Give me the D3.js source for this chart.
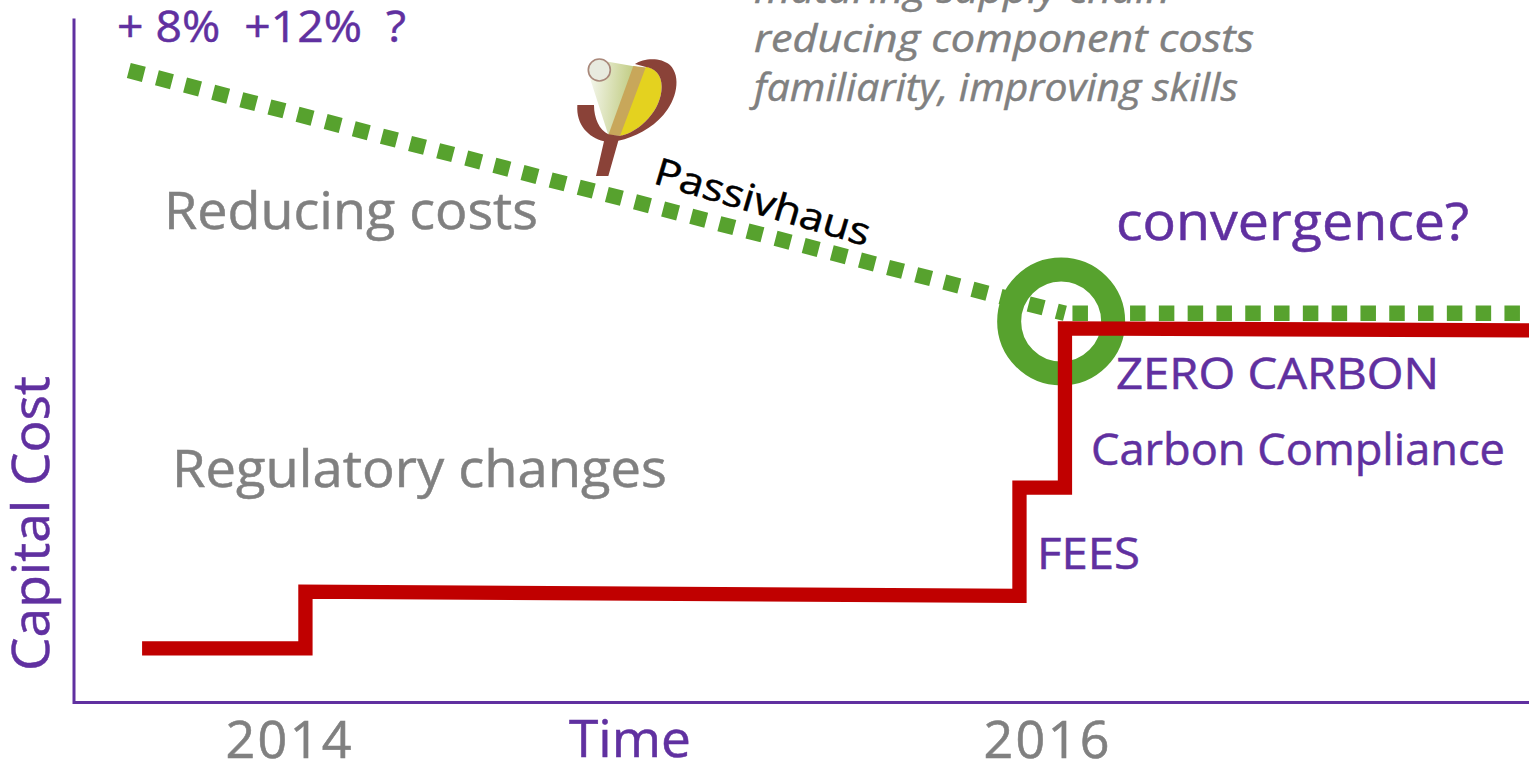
<!DOCTYPE html>
<html>
<head>
<meta charset="utf-8">
<script src="https://cdn.jsdelivr.net/npm/d3@7"></script>
<style>
html, body { margin: 0; padding: 0; background: #fff; overflow: hidden; }
text { font-family: "Open Sans", "DejaVu Sans", sans-serif; }
</style>
</head>
<body>
<div id="chart"></div>
<script>
// values: time in years, cost on a 0-100 index
var regulationYears = [2013.615, 2014.046, 2014.046, 2015.93, 2015.93, 2016.05, 2016.05, 2017.29];
var regulationCost = [7.9, 7.9, 16.2, 15.6, 31.4, 31.4, 54.7, 54.4];
var passivhausYears = [2013.58, 2016.05, 2017.29];
var passivhausCost = [92.4, 56.9, 56.9];
var timeTicks = [2014, 2016];
var convergenceYear = [2016.04];
var convergenceCost = [55.7];

var width = 1529,
	height = 764;

var purple = "#6030a0",
	grey = "#808080",
	red = "#c00000",
	green = "#57a22e";

var svg = d3.select("#chart")
	.append("svg")
	.attr("width", width)
	.attr("height", height)
	.style("display", "block");

var x = d3.scaleLinear().domain([2014, 2016]).range([288, 1046]);
var y = d3.scaleLinear().domain([0, 100]).range([702.5, 18.5]);

var line = d3.line()
	.x(function(d) { return x(d[0]); })
	.y(function(d) { return y(d[1]); });

//axes, no tick marks, only the two year labels
var xAxis = svg.append("g")
	.attr("transform", "translate(0," + y(0) + ")")
	.call(d3.axisBottom(x).tickValues(timeTicks).tickFormat(d3.format("d")).tickSize(0).tickPadding(10));
xAxis.select(".domain").remove();
xAxis.selectAll("text")
	.attr("fill", grey)
	.attr("stroke", grey)
	.attr("stroke-width", 0.6)
	.attr("font-size", 52)
	.attr("textLength", 126)
	.attr("lengthAdjust", "spacing")
	.attr("dy", "0.87em");

svg.append("path")
	.attr("d", line([[x.invert(74), 100], [x.invert(74), 0], [x.invert(1529), 0]]))
	.attr("fill", "none")
	.attr("stroke", purple)
	.attr("stroke-width", 3);

//passivhaus cost, dotted: the falling part and the flat part have their own dash phase
var passivhaus = d3.zip(passivhausYears, passivhausCost);
svg.append("path")
	.attr("d", line(passivhaus.slice(0, 2)))
	.attr("fill", "none")
	.attr("stroke", green)
	.attr("stroke-width", 15.5)
	.attr("stroke-dasharray", "15.5 13.55");
svg.append("path")
	.attr("d", line(passivhaus.slice(1)))
	.attr("fill", "none")
	.attr("stroke", green)
	.attr("stroke-width", 15.5)
	.attr("stroke-dasharray", "15.5 13.3")
	.attr("stroke-dashoffset", -7.5);

//ring round the point where the two lines meet
svg.selectAll(".ring")
	.data(d3.zip(convergenceYear, convergenceCost))
	.enter().append("circle")
	.attr("class", "ring")
	.attr("cx", function(d) { return x(d[0]); })
	.attr("cy", function(d) { return y(d[1]); })
	.attr("r", 52)
	.attr("fill", "none")
	.attr("stroke", green)
	.attr("stroke-width", 24);

//regulation cost, stepped
svg.append("path")
	.attr("d", line(d3.zip(regulationYears, regulationCost)))
	.attr("fill", "none")
	.attr("stroke", red)
	.attr("stroke-width", 14.3)
	.attr("stroke-linejoin", "miter");

function label(str, px, py, size, color, len, opts) {
	opts = opts || {};
	var t = svg.append("text")
		.attr("x", px)
		.attr("y", py)
		.attr("font-size", size)
		.attr("fill", color)
		.attr("stroke", color)
		.attr("stroke-width", 0.5)
		.attr("textLength", len)
		.attr("lengthAdjust", "spacingAndGlyphs")
		.style("white-space", "pre")
		.text(str);
	if (opts.italic) t.attr("font-style", "italic");
	if (opts.rotate) t.attr("transform", "rotate(" + opts.rotate + " " + px + " " + py + ")");
	return t;
}

label("+ 8%  +12%  ?", 117, 42, 43, purple, 289);
label("maturing supply chain", 754, 3, 39, grey, 416, { italic: true });
label("reducing component costs", 754, 52, 39, grey, 500, { italic: true });
label("familiarity, improving skills", 754, 101, 39, grey, 484, { italic: true });
label("Reducing costs", 164, 229, 51, grey, 374);
label("Regulatory changes", 172, 487, 51, grey, 495);
label("convergence?", 1116, 240, 51, purple, 353);
label("ZERO CARBON", 1116, 389, 43, purple, 323);
label("Carbon Compliance", 1091, 465, 43, purple, 414);
label("FEES", 1037, 569, 44, purple, 103);
label("Time", 569, 757, 52, purple, 122);
label("Capital Cost", 49, 671, 52, purple, 295, { rotate: -90 });
label("Passivhaus", 652, 183, 38, "#000", 223, { rotate: 16.5 });

//passivhaus logo, drawn in 3x crop units
var defs = svg.append("defs");
var cone = defs.append("linearGradient")
	.attr("id", "cone")
	.attr("x1", 0).attr("y1", 0.2)
	.attr("x2", 1).attr("y2", 0.35);
cone.append("stop").attr("offset", "0").attr("stop-color", "#f4f6ec");
cone.append("stop").attr("offset", "1").attr("stop-color", "#bcc878");

var logo = svg.append("g")
	.attr("transform", "translate(540,0) scale(0.3333)");
logo.append("path")
	.attr("d", "M150,235 L205,185 L290,200 L240,408 L205,405 Z")
	.attr("fill", "url(#cone)");
logo.append("path")
	.attr("d", "M280,198 L325,203 L245,408 L205,405 Z")
	.attr("fill", "#c8a75a");
logo.append("path")
	.attr("d", "M318,200 C345,203 365,225 365,260 C365,330 300,395 240,408 Z")
	.attr("fill", "#e4d21f");
logo.append("path")
	.attr("d", "M112,315 L162,315 C162,355 178,390 205,403 L240,408 C300,395 365,330 365,260 C365,225 345,203 315,200 L285,192 C310,175 360,170 390,195 C425,230 410,300 370,345 C335,385 285,412 235,422 L205,528 L168,528 L192,424 C145,412 108,375 112,315 Z")
	.attr("fill", "#8a4238");
logo.append("circle")
	.attr("cx", 178).attr("cy", 210).attr("r", 33)
	.attr("fill", "#e8ebdf")
	.attr("stroke", "#a9887a")
	.attr("stroke-width", 5);
</script>
</body>
</html>
